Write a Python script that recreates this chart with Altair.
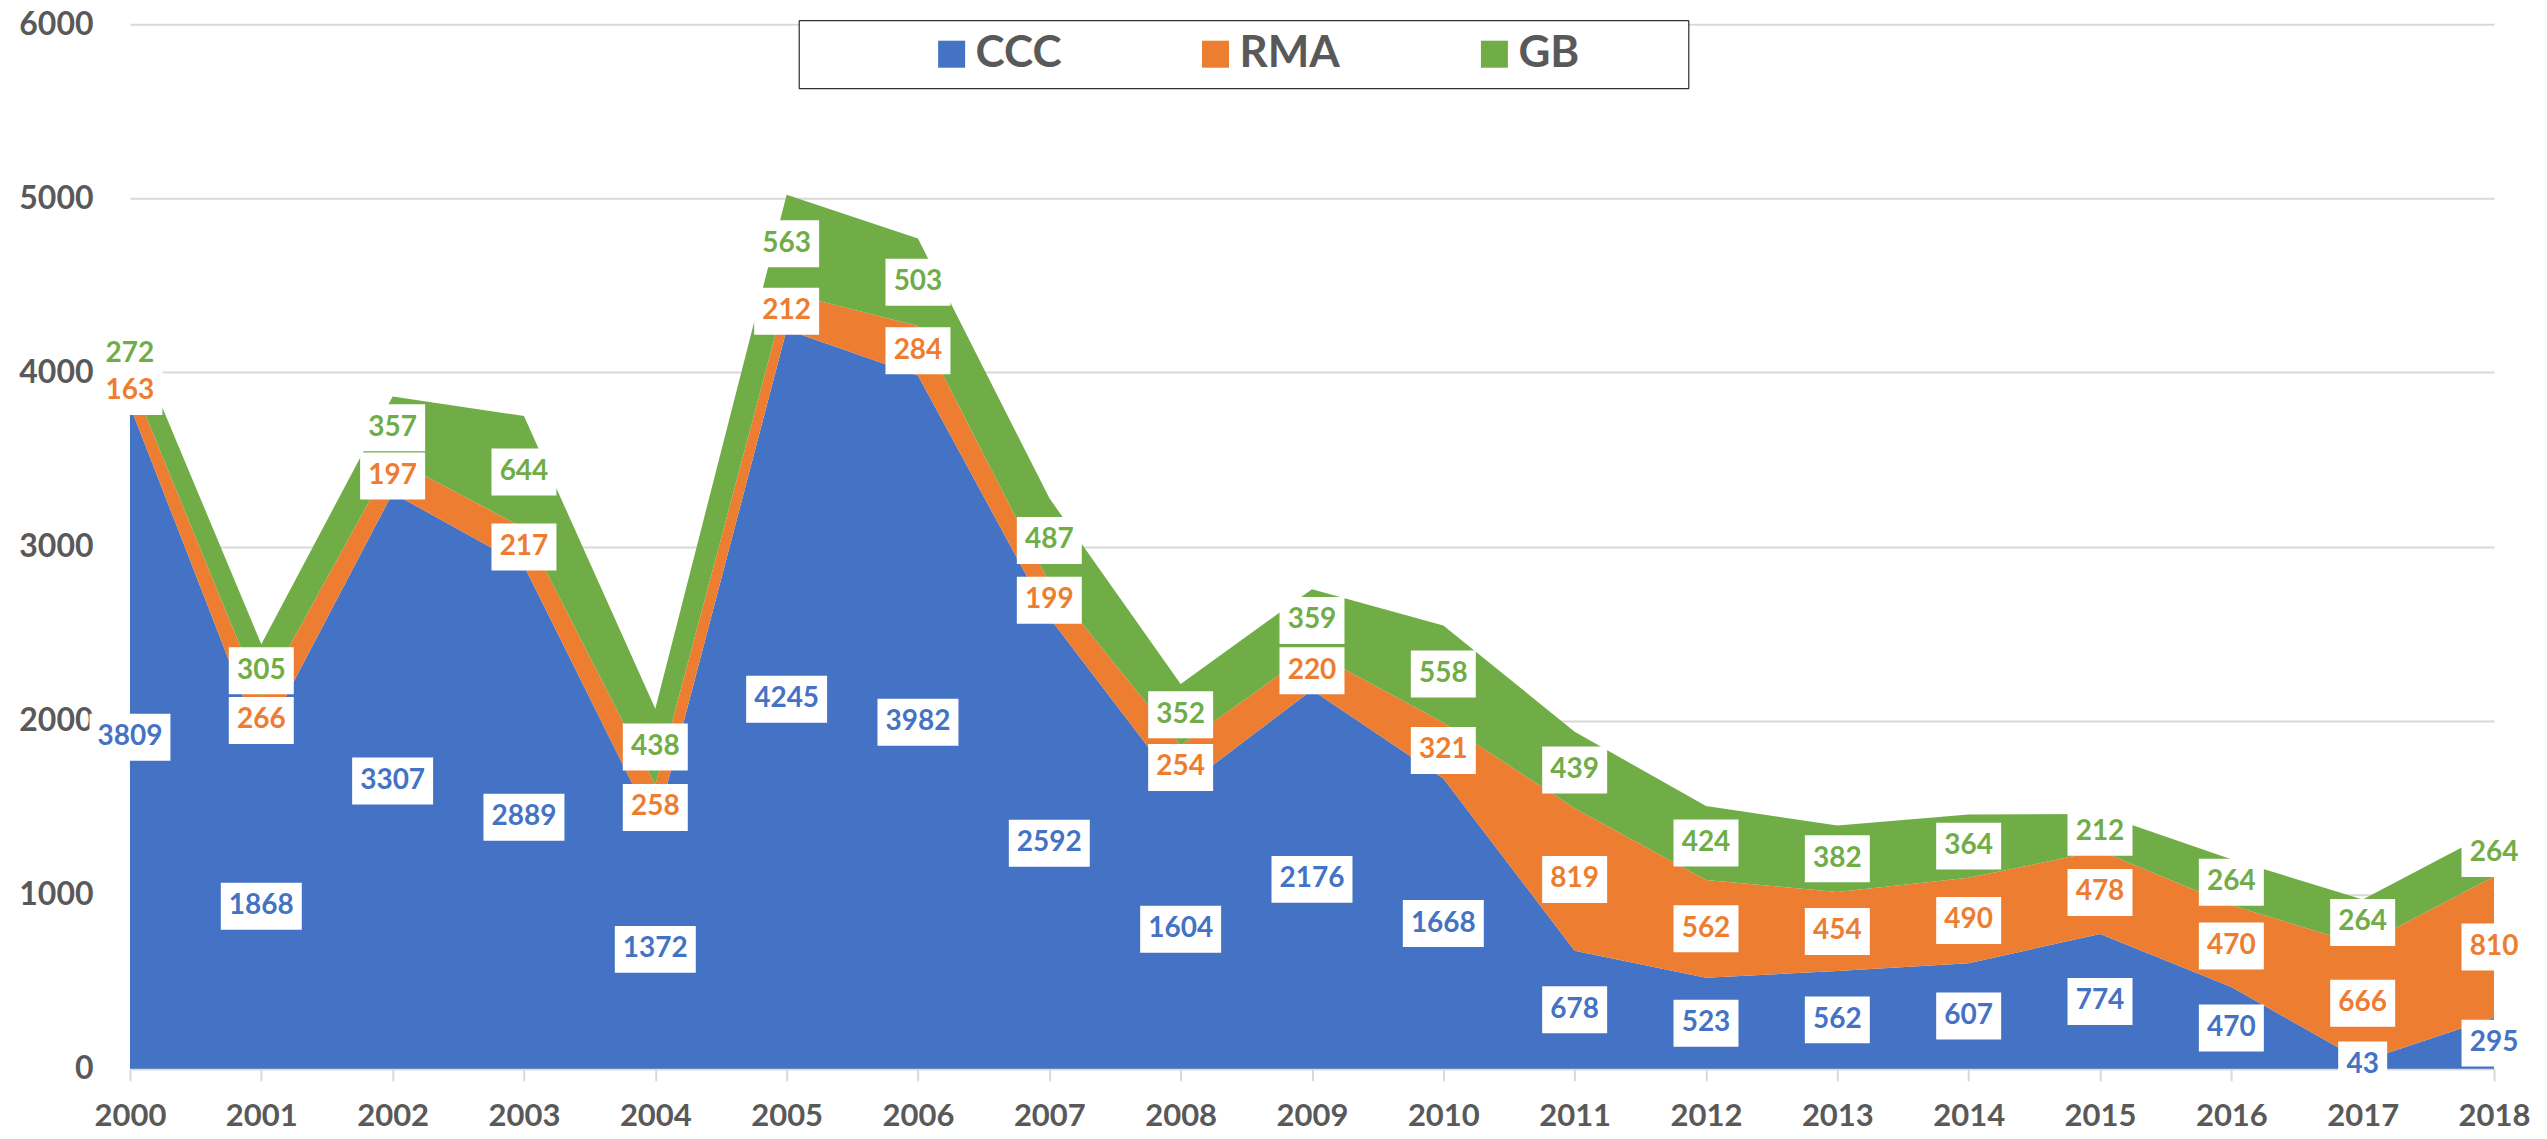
import altair as alt
import pandas as pd

years = list(range(2000, 2019))
ccc = [3809, 1868, 3307, 2889, 1372, 4245, 3982, 2592, 1604, 2176, 1668, 678, 523, 562, 607, 774, 470, 43, 295]
rma = [163, 266, 197, 217, 258, 212, 284, 199, 254, 220, 321, 819, 562, 454, 490, 478, 470, 666, 810]
gb = [272, 305, 357, 644, 438, 563, 503, 487, 352, 359, 558, 439, 424, 382, 364, 212, 264, 264, 264]
series_names = ["CCC", "RMA", "GB"]
series_colors = ["#4472C4", "#ED7D31", "#70AD47"]
y_ticks = [0, 1000, 2000, 3000, 4000, 5000, 6000]

rows = []
for k, (name, vals) in enumerate(zip(series_names, [ccc, rma, gb])):
    for yr, v in zip(years, vals):
        rows.append({"year": yr, "series": name, "k": k, "value": v})
df = pd.DataFrame(rows)

FONT = "Lato"
GRAY = "#595959"
LIGHT = "#D9D9D9"

# label box shapes (unit = 40px with size 6400)
box_paths = [
    "M-0.6125,-0.5875L0.6125,-0.5875L0.6125,0.5875L-0.6125,0.5875Z",
    "M-0.8125,-0.5875L0.8125,-0.5875L0.8125,0.5875L-0.8125,0.5875Z",
    "M-1.0125,-0.5875L1.0125,-0.5875L1.0125,0.5875L-1.0125,0.5875Z",
]

color_scale = alt.Scale(domain=series_names, range=series_colors)
y_scale = alt.Scale(domain=[0, 6000], nice=False, zero=True)
x_enc = alt.X(
    "year:Q",
    scale=alt.Scale(domain=[years[0], years[-1]], nice=False, zero=False),
    axis=alt.Axis(values=years, format="d", title=None, grid=False,
                  domainColor=LIGHT, domainWidth=2, tickColor=LIGHT, tickWidth=2,
                  tickSize=12, labelPadding=21, labelFont=FONT, labelFontWeight="bold",
                  labelFontSize=31, labelColor=GRAY, labelFlush=False, labelOverlap=False),
)

base = alt.Chart(df).transform_stack(
    stack="value", groupby=["year"], as_=["y0", "y1"],
    sort=[alt.SortField("k", order="ascending")],
).transform_calculate(
    mid="(datum.y0 + datum.y1) / 2",
    nd="'d' + length(toString(datum.value))",
)

nbsp = "\u00a0"
blank = "\u2800"
legend = alt.Legend(
    orient="none", legendX=669, legendY=-4, direction="horizontal",
    title=nbsp + blank, titleOrient="left", titlePadding=112, titleFontSize=10,
    strokeColor="black", padding=12, fillColor="white",
    symbolType="square", symbolSize=729, symbolStrokeWidth=0,
    labelFont=FONT, labelFontWeight="bold", labelFontSize=44, labelColor=GRAY,
    labelOffset=2, columnPadding=132, labelLimit=800,
    labelExpr="datum.label == 'GB' ? 'GB' + '" + nbsp * 6 + blank + "' : datum.label",
)

area = base.mark_area(opacity=1).encode(
    x=x_enc,
    y=alt.Y("y1:Q", scale=y_scale, stack=None,
            axis=alt.Axis(values=y_ticks, format="d", title=None, grid=True,
                          gridColor=LIGHT, gridWidth=2, domain=False, ticks=False,
                          tickSize=0, labelPadding=37, labelFont=FONT,
                          labelFontWeight="bold", labelFontSize=32, labelColor=GRAY)),
    y2="y0:Q",
    color=alt.Color("series:N", scale=color_scale, legend=legend),
    order=alt.Order("k:Q"),
)

boxes = base.mark_point(filled=True, color="white", opacity=1, size=6400, strokeWidth=0).encode(
    x=x_enc,
    y=alt.Y("mid:Q", scale=y_scale),
    shape=alt.Shape("nd:N", scale=alt.Scale(domain=["d2", "d3", "d4"], range=box_paths), legend=None),
)

texts = base.mark_text(font=FONT, fontWeight="bold", fontSize=28, align="center", baseline="middle").encode(
    x=x_enc,
    y=alt.Y("mid:Q", scale=y_scale),
    text=alt.Text("value:Q", format="d"),
    color=alt.Color("series:N", scale=color_scale, legend=None),
)

chart = alt.layer(area, boxes, texts).properties(
    width=2365, height=1045, autosize="none",
    padding={"left": 122, "top": 16, "right": 45, "bottom": 62},
).configure_view(stroke=None)

chart.save("out.html", embed_options={"renderer": "svg", "actions": False})
